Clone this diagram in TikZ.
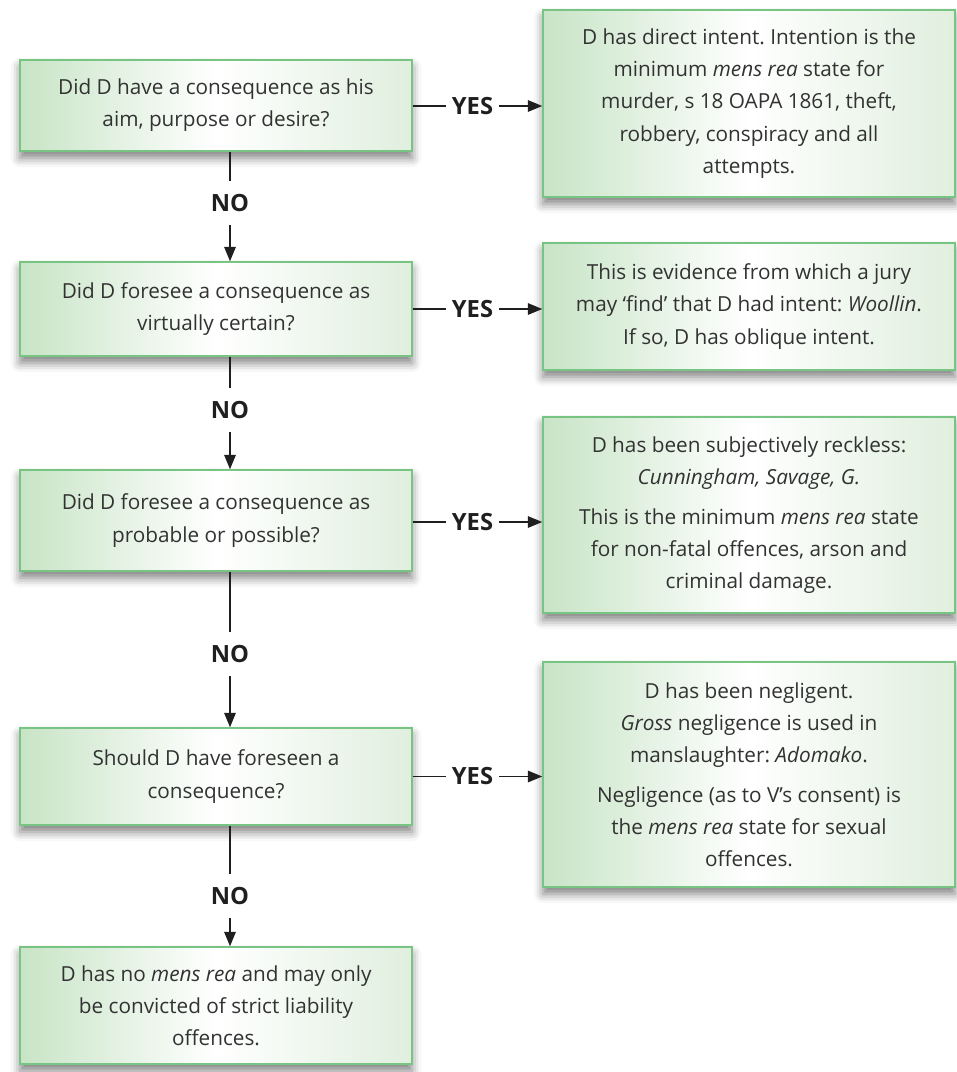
\documentclass[tikz,border=0pt]{standalone}
\usepackage{fontspec}
\setsansfont{Open Sans}
\usepackage{xcolor}
\usepackage{tikz}
\usetikzlibrary{arrows.meta,positioning,calc,shadows.blur}

\definecolor{boxleft}{RGB}{200,228,198}
\definecolor{boxright}{RGB}{224,239,222}
\definecolor{boxedge}{RGB}{120,196,130}
\definecolor{inktext}{RGB}{50,50,50}

\frenchspacing

\begin{document}
\begin{tikzpicture}[
  >={Stealth[length=2.9mm,width=2.3mm,inset=0pt]},
  every node/.style={font=\sffamily\fontsize{11.8}{18.3}\selectfont, text=inktext},
  card/.style={
    draw=boxedge, line width=0.8pt, align=center, inner sep=0pt,
    left color=boxleft, right color=boxright, middle color=white,
    blur shadow={shadow xshift=0pt, shadow yshift=-1.4mm,
      shadow blur radius=1.8mm, shadow opacity=50}
  },
  ask/.style={card, minimum width=7.84cm},
  reply/.style={card, minimum width=8.24cm},
  yestag/.style={font=\sffamily\bfseries\fontsize{13.5}{15}\selectfont,
    text=black!88, inner xsep=1.2mm, inner ysep=1mm},
  notag/.style={font=\sffamily\bfseries\fontsize{13.5}{15}\selectfont,
    text=black!88, inner xsep=1mm, inner ysep=2.5mm},
  link/.style={line width=0.9pt, black!88}
]

\def\askx{4.32}
\def\replyx{14.98}
\def\tagx{9.45}
\def\downx{4.60}

\useasboundingbox (0,0) rectangle (19.14,-21.44);

% Questions
\node[ask, minimum height=1.82cm] (q1) at (\askx,-2.11) {
  Did D have a consequence as his\\ aim, purpose or desire?};
\node[ask, minimum height=1.88cm] (q2) at (\askx,-6.18) {
  Did D foresee a consequence as\\ virtually certain?};
\node[ask, minimum height=2.02cm] (q3) at (\askx,-10.41) {
  Did D foresee a consequence as\\ probable or possible?};
\node[ask, minimum height=1.94cm] (q4) at (\askx,-15.53) {
  Should D have foreseen a\\ consequence?};
\node[ask, minimum height=2.34cm] (q5) at (\askx,-20.11) {
  D has no \textit{mens rea} and may only\\ be convicted of strict liability\\ offences.};

% Answers
\node[reply, minimum height=3.74cm] (a1) at (\replyx,-2.07) {
  D has direct intent. Intention is the\\ minimum \textit{mens rea} state for\\
  murder, s 18 OAPA 1861, theft,\\ robbery, conspiracy and all\\ attempts.};
\node[reply, minimum height=2.54cm] (a2) at (\replyx,-6.13) {
  This is evidence from which a jury\\
  may ‘find’ that D had intent: \textit{Woollin}.\\ If so, D has oblique intent.};
\node[reply, minimum height=3.92cm] (a3) at (\replyx,-10.30) {
  D has been subjectively reckless:\\ \textit{Cunningham, Savage, G.}\\[1.5mm]
  This is the minimum \textit{mens rea} state\\ for non-fatal offences, arson and\\
  criminal damage.};
\node[reply, minimum height=4.50cm] (a4) at (\replyx,-15.49) {
  D has been negligent.\\ \textit{Gross} negligence is used in\\
  manslaughter: \textit{Adomako}.\\[1.5mm]
  Negligence (as to V’s consent) is\\ the \textit{mens rea} state for sexual\\ offences.};

% YES labels
\node[yestag] (y1) at (\tagx,-2.12) {YES};
\node[yestag] (y2) at (\tagx,-6.18) {YES};
\node[yestag] (y3) at (\tagx,-10.44) {YES};
\node[yestag] (y4) at (\tagx,-15.53) {YES};

% NO labels
\node[notag] (n1) at (\downx,-4.06) {NO};
\node[notag] (n2) at (\downx,-8.20) {NO};
\node[notag] (n3) at (\downx,-13.08) {NO};
\node[notag] (n4) at (\downx,-17.92) {NO};

% YES connectors
\draw[link] (q1.east |- y1) -- (y1);
\draw[link,->] (y1) -- (y1 -| a1.west);
\draw[link] (q2.east |- y2) -- (y2);
\draw[link,->] (y2) -- (y2 -| a2.west);
\draw[link] (q3.east |- y3) -- (y3);
\draw[link,->] (y3) -- (y3 -| a3.west);
\draw[link] (q4.east |- y4) -- (y4);
\draw[link,->] (y4) -- (y4 -| a4.west);

% NO connectors
\draw[link] (n1 |- q1.south) -- (n1);
\draw[link,->] (n1) -- (n1 |- q2.north);
\draw[link] (n2 |- q2.south) -- (n2);
\draw[link,->] (n2) -- (n2 |- q3.north);
\draw[link] (n3 |- q3.south) -- (n3);
\draw[link,->] (n3) -- (n3 |- q4.north);
\draw[link] (n4 |- q4.south) -- (n4);
\draw[link,->] (n4) -- (n4 |- q5.north);

\end{tikzpicture}
\end{document}
